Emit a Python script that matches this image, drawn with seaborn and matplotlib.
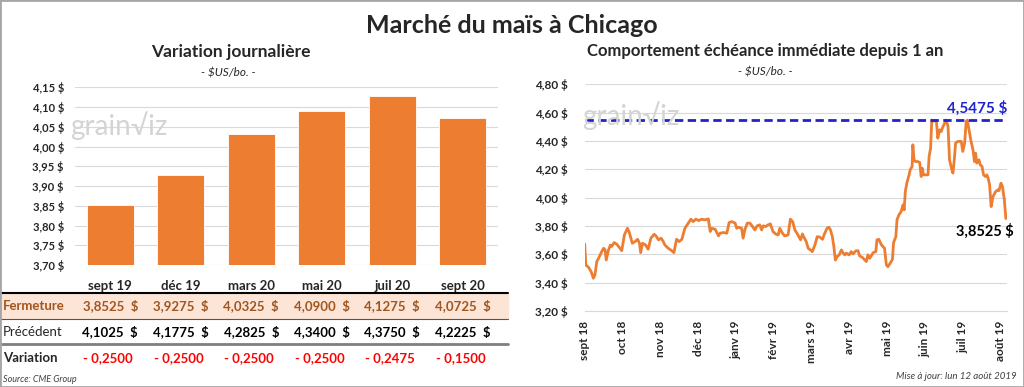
import numpy as np
import pandas as pd
import seaborn as sns
import matplotlib.pyplot as plt
from matplotlib.patches import Rectangle
from matplotlib.lines import Line2D
from matplotlib.transforms import blended_transform_factory

# Données - variation journalière (graphique de gauche)
contrats = ["sept 19", "déc 19", "mars 20", "mai 20", "juil 20", "sept 20"]
fermeture = [3.8525, 3.9275, 4.0325, 4.0900, 4.1275, 4.0725]
precedent = [4.1025, 4.1775, 4.2825, 4.3400, 4.3750, 4.2225]

# Données - échéance immédiate depuis 1 an (graphique de droite)
# position en mois depuis sept 18
mois = [0.00, 0.03, 0.10, 0.17, 0.23, 0.27, 0.32, 0.38, 0.45, 0.50, 0.54, 0.57, 0.63, 0.68, 0.71,
        0.78, 0.85, 0.93, 0.98, 1.05, 1.13, 1.18, 1.26, 1.33, 1.40, 1.45, 1.48, 1.53, 1.61, 1.68,
        1.75, 1.84, 1.90, 1.95, 2.02, 2.08, 2.12, 2.21, 2.30, 2.36, 2.43, 2.50, 2.57, 2.65, 2.74,
        2.81, 2.87, 2.94, 3.02, 3.09, 3.18, 3.27, 3.32, 3.36, 3.45, 3.54, 3.58, 3.67, 3.76, 3.82,
        3.89, 3.98, 4.02, 4.06, 4.15, 4.19, 4.24, 4.30, 4.37, 4.44, 4.50, 4.56, 4.63, 4.68, 4.72,
        4.79, 4.85, 4.91, 4.98, 5.05, 5.12, 5.16, 5.23, 5.29, 5.38, 5.44, 5.50, 5.56, 5.64, 5.71,
        5.76, 5.79, 5.86, 5.91, 5.97, 6.02, 6.09, 6.15, 6.22, 6.29, 6.35, 6.41, 6.46, 6.50, 6.55,
        6.59, 6.63, 6.68, 6.73, 6.79, 6.83, 6.88, 6.92, 6.99, 7.05, 7.10, 7.17, 7.23, 7.27, 7.34,
        7.41, 7.45, 7.49, 7.54, 7.63, 7.70, 7.73, 7.78, 7.85, 7.89, 7.93, 7.98, 8.02, 8.08, 8.14,
        8.17, 8.23, 8.26, 8.31, 8.37, 8.42, 8.45, 8.48, 8.52, 8.58, 8.61, 8.66, 8.68, 8.71, 8.75,
        8.81, 8.86, 8.90, 8.93, 8.96, 9.02, 9.08, 9.11, 9.15, 9.18, 9.21, 9.26, 9.30, 9.34, 9.39,
        9.43, 9.48, 9.52, 9.56, 9.61, 9.65, 9.70, 9.74, 9.78, 9.81, 9.87, 9.96, 10.00, 10.05, 10.09,
        10.12, 10.18, 10.22, 10.27, 10.31, 10.34, 10.37, 10.43, 10.46, 10.51, 10.55, 10.60, 10.64,
        10.67, 10.71, 10.75, 10.80, 10.87, 10.93, 10.96, 11.01, 11.05, 11.10, 11.14]
prix = [3.673, 3.525, 3.509, 3.478, 3.431, 3.454, 3.549, 3.579, 3.619, 3.643, 3.631, 3.560, 3.631,
        3.666, 3.655, 3.683, 3.671, 3.643, 3.626, 3.737, 3.784, 3.754, 3.678, 3.690, 3.706, 3.678,
        3.612, 3.678, 3.666, 3.636, 3.714, 3.742, 3.725, 3.702, 3.714, 3.690, 3.666, 3.643, 3.626,
        3.612, 3.706, 3.690, 3.706, 3.784, 3.820, 3.848, 3.831, 3.848, 3.838, 3.848, 3.843, 3.850,
        3.761, 3.784, 3.777, 3.730, 3.749, 3.754, 3.749, 3.824, 3.831, 3.820, 3.784, 3.791, 3.784,
        3.714, 3.777, 3.820, 3.820, 3.796, 3.772, 3.801, 3.808, 3.772, 3.801, 3.796, 3.808, 3.815,
        3.761, 3.744, 3.737, 3.784, 3.749, 3.730, 3.737, 3.848, 3.831, 3.772, 3.737, 3.702, 3.744,
        3.725, 3.690, 3.643, 3.631, 3.619, 3.666, 3.725, 3.721, 3.706, 3.749, 3.784, 3.791, 3.772,
        3.725, 3.655, 3.560, 3.584, 3.596, 3.631, 3.612, 3.596, 3.608, 3.596, 3.619, 3.603, 3.624,
        3.626, 3.589, 3.579, 3.560, 3.549, 3.596, 3.572, 3.612, 3.619, 3.702, 3.706, 3.666, 3.655,
        3.643, 3.525, 3.513, 3.537, 3.565, 3.683, 3.725, 3.843, 3.878, 3.902, 3.949, 3.914, 4.043,
        4.102, 4.161, 4.196, 4.220, 4.373, 4.267, 4.255, 4.255, 4.248, 4.149, 4.208, 4.161, 4.161,
        4.161, 4.291, 4.350, 4.5475, 4.538, 4.545, 4.545, 4.420, 4.479, 4.467, 4.503, 4.526, 4.5475,
        4.503, 4.267, 4.208, 4.173, 4.279, 4.385, 4.397, 4.397, 4.326, 4.385, 4.538, 4.5475, 4.456,
        4.397, 4.338, 4.255, 4.314, 4.244, 4.267, 4.232, 4.220, 4.161, 4.149, 4.161, 4.138, 4.090,
        3.937, 4.008, 4.043, 4.055, 4.050, 4.102, 4.079, 3.984, 3.8525]
mois_labels = ["sept 18", "oct 18", "nov 18", "déc 18", "janv 19", "févr 19", "mars 19",
               "avr 19", "mai 19", "juin 19", "juil 19", "août 19"]
sommet = 4.5475
dernier = 3.8525

ORANGE = "#ED7D31"
BRUN = "#A0561E"
BLEU = "#2222CC"
GRILLE = "#D9D9D9"


def fr(v, dec=4):
    return f"{v:.{dec}f}".replace(".", ",")


sns.set_style("white")
plt.rcParams["font.family"] = ["Lato", "DejaVu Sans"]

W, H = 1024, 387
fig = plt.figure(figsize=(W / 100, H / 100), dpi=100)


def fx(px):
    return px / W


def fy(py):
    return 1 - py / H


fig.text(0.5, fy(33), "Marché du maïs à Chicago", ha="center", va="baseline",
         fontsize=18, fontweight="bold")

# ---- Graphique de gauche : barres
ax1 = fig.add_axes([fx(75), fy(265), fx(498) - fx(75), fy(87.3) - fy(265)])
df_bar = pd.DataFrame({"contrat": contrats, "fermeture": fermeture})
sns.barplot(data=df_bar, x="contrat", y="fermeture", color=ORANGE, saturation=1,
            width=0.66, edgecolor="white", linewidth=0.6, ax=ax1)
ax1.set_ylim(3.70, 4.15)
ax1.set_xlim(-0.5, len(contrats) - 0.5)
yt = np.round(np.arange(3.70, 4.151, 0.05), 2)
ax1.set_yticks(yt)
ax1.set_yticklabels([fr(v, 2) + " $" for v in yt], fontsize=8, fontweight="bold")
ax1.set_xticks(range(len(contrats)))
ax1.set_xticklabels(contrats, fontsize=9.5, fontweight="bold")
ax1.tick_params(axis="y", length=0, pad=8)
ax1.tick_params(axis="x", length=0, pad=11)
ax1.yaxis.grid(True, color=GRILLE, lw=0.8)
ax1.set_axisbelow(True)
ax1.set_xlabel("")
ax1.set_ylabel("")
for s in ax1.spines.values():
    s.set_visible(False)

fig.text(fx(231), fy(57.5), "Variation journalière", ha="center", va="baseline",
         fontsize=12.5, fontweight="bold")
fig.text(fx(228), fy(76), "- $US/bo. -", ha="center", va="baseline",
         fontsize=8.5, style="italic")
fig.text(fx(70), fy(135), "grain√iz", ha="left", va="baseline", fontsize=20,
         color="#D4D4D4", family=["Lato", "DejaVu Sans"])

# tableau sous le graphique
tr = blended_transform_factory(ax1.transData, fig.transFigure)
fig.patches.append(Rectangle((0, fy(318)), fx(508), fy(294) - fy(318),
                             transform=fig.transFigure, color="#FCE4D6", zorder=-1))
fig.add_artist(Line2D([0, fx(508)], [fy(293), fy(293)], color="black", lw=1.5))
fig.add_artist(Line2D([0, fx(508)], [fy(318.5), fy(318.5)], color="#555555", lw=0.8))
fig.add_artist(Line2D([0, fx(508)], [fy(343.5), fy(343.5)], color="#7F7F7F", lw=2))

fig.text(fx(3), fy(310), "Fermeture", ha="left", va="baseline", fontsize=9.5,
         fontweight="bold", color=BRUN)
fig.text(fx(3), fy(336), "Précédent", ha="left", va="baseline", fontsize=9.5)
fig.text(fx(3), fy(362), "Variation", ha="left", va="baseline", fontsize=9.5,
         fontweight="bold")
for i, (f, p) in enumerate(zip(fermeture, precedent)):
    fig.text(i, fy(310), fr(f) + "  $", transform=tr, ha="center", va="baseline",
             fontsize=9.5, fontweight="bold", color=BRUN)
    fig.text(i, fy(336), fr(p) + "  $", transform=tr, ha="center", va="baseline",
             fontsize=9.5, fontweight="bold", color="black")
    fig.text(i - 0.03, fy(362), "- " + fr(abs(f - p)), transform=tr, ha="center",
             va="baseline", fontsize=9.5, fontweight="bold", color="#FF0000")
fig.text(fx(3), fy(382), "Source: CME Group", ha="left", va="baseline", fontsize=6.5,
         style="italic", color="#404040")

# ---- Graphique de droite : ligne
ax2 = fig.add_axes([fx(584.7), fy(311), fx(1007) - fx(584.7), fy(84.3) - fy(311)])
df_line = pd.DataFrame({"mois": mois, "prix": prix})
sns.lineplot(data=df_line, x="mois", y="prix", color=ORANGE, lw=2, estimator=None,
             sort=False, ax=ax2)
ax2.axhline(sommet, color=BLEU, lw=2, ls=(0, (3, 1.6)))
ax2.set_ylim(3.2, 4.8)
ax2.set_xlim(0, 11.17)
yt2 = np.round(np.arange(3.2, 4.81, 0.2), 2)
ax2.set_yticks(yt2)
ax2.set_yticklabels([fr(v, 2) + " $" for v in yt2], fontsize=8.5, fontweight="bold")
ax2.set_xticks(range(len(mois_labels)))
ax2.set_xticklabels(mois_labels, rotation=90, fontsize=8.5, fontweight="bold")
ax2.tick_params(axis="y", length=0, pad=12)
ax2.tick_params(axis="x", length=3, width=0.8, color="#BFBFBF", pad=4, direction="out")
ax2.yaxis.grid(True, color=GRILLE, lw=0.8)
ax2.set_axisbelow(True)
ax2.set_xlabel("")
ax2.set_ylabel("")
for k, s in ax2.spines.items():
    s.set_visible(k == "bottom")
ax2.spines["bottom"].set_color(GRILLE)

ax2.annotate(fr(sommet) + " $", xy=(11.17, sommet), xytext=(0, 5), textcoords="offset points",
             ha="right", va="baseline", fontsize=11, fontweight="bold", color=BLEU)
ax2.annotate(fr(dernier) + " $", xy=(mois[-1], dernier), xytext=(6, -3.5),
             textcoords="offset points", ha="right", va="top", fontsize=10.5,
             fontweight="bold", color="black")

fig.text(fx(765), fy(56), "Comportement échéance immédiate depuis 1 an", ha="center",
         va="baseline", fontsize=12, fontweight="bold")
fig.text(fx(765), fy(75.5), "- $US/bo. -", ha="center", va="baseline", fontsize=8.5,
         style="italic")
fig.text(fx(582), fy(125), "grain√iz", ha="left", va="baseline", fontsize=20,
         color="#D4D4D4", family=["Lato", "DejaVu Sans"], zorder=0)

fig.text(fx(1017), fy(379), "Mise à jour: lun 12 août 2019", ha="right", va="baseline",
         fontsize=7, style="italic", color="#404040")

fig.patches.append(Rectangle((0, 0), 1, 1, transform=fig.transFigure, fill=False,
                             edgecolor="#A6A6A6", lw=2, zorder=10))

fig.savefig("out.png", dpi=100)
